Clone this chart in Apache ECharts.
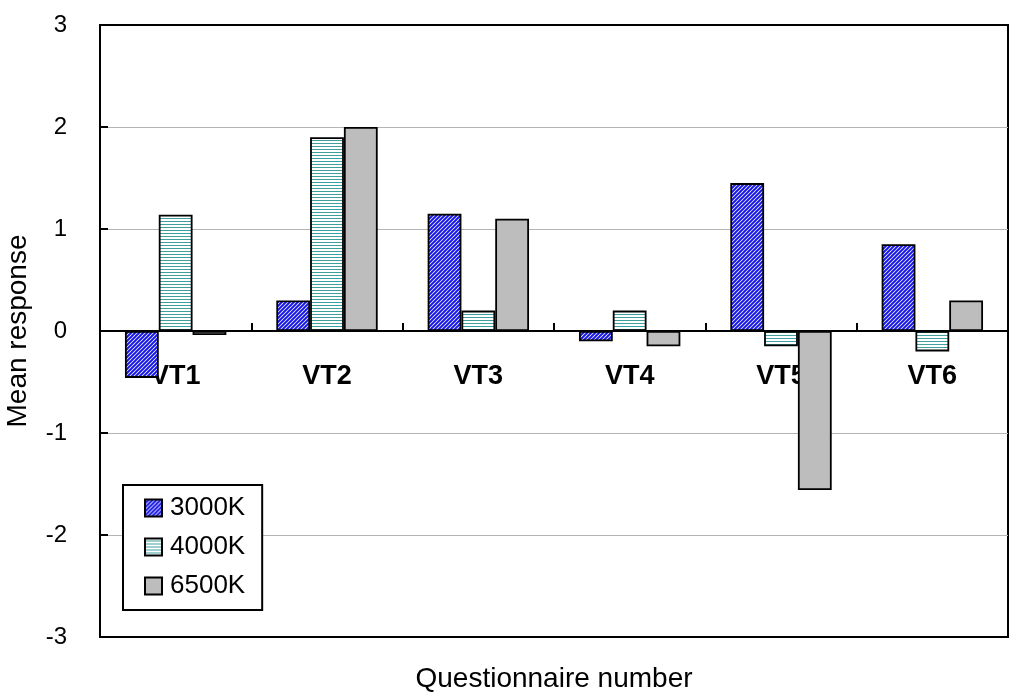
<!DOCTYPE html>
<html>
<head>
<meta charset="utf-8">
<script src="https://cdn.jsdelivr.net/npm/echarts@6/dist/echarts.min.js"></script>
<style>
html,body{margin:0;padding:0;background:#fff;}
#chart{width:1024px;height:696px;}
</style>
</head>
<body>
<div id="chart"></div>
<script>
var categories = ['VT1', 'VT2', 'VT3', 'VT4', 'VT5', 'VT6'];
var seriesNames = ['3000K', '4000K', '6500K'];
var values3000K = [-0.46, 0.3, 1.15, -0.1, 1.45, 0.85];
var values4000K = [1.14, 1.9, 0.2, 0.2, -0.15, -0.2];
var values6500K = [-0.04, 2.0, 1.1, -0.15, -1.56, 0.3];
var yTicks = { min: -3, max: 3, interval: 1 };

function makeCanvas(w, h, draw) {
  var c = document.createElement('canvas');
  c.width = w; c.height = h;
  draw(c.getContext('2d'));
  return c;
}
var bluePattern = makeCanvas(4, 4, function (g) {
  g.fillStyle = '#ffffff';
  g.fillRect(0, 0, 4, 4);
  g.strokeStyle = '#1818e6';
  g.lineWidth = 2;
  g.beginPath();
  g.moveTo(-1, 5); g.lineTo(5, -1);
  g.moveTo(-3, 3); g.lineTo(3, -3);
  g.moveTo(1, 7); g.lineTo(7, 1);
  g.stroke();
});
var tealPattern = makeCanvas(4, 3, function (g) {
  g.fillStyle = '#ffffff';
  g.fillRect(0, 0, 4, 3);
  g.fillStyle = '#3f9f9f';
  g.fillRect(0, 2, 4, 1);
});
var grayPattern = makeCanvas(30, 4, function (g) {
  g.fillStyle = '#bdbdbd';
  g.fillRect(0, 0, 30, 4);
});

var font = "'Liberation Sans', Arial, sans-serif";
var chart = echarts.init(document.getElementById('chart'));
var barStyle = function (img) {
  return { color: { image: img, repeat: 'repeat' }, borderColor: '#000', borderWidth: 1.8 };
};
var gridTop = 25, gridBottom = 59, chartH = 696;
var zeroOffset = -((chartH - gridTop - gridBottom) / 2);
chart.setOption({
  animation: false,
  backgroundColor: '#fff',
  textStyle: { fontFamily: font },
  grid: { left: 100, right: 16, top: gridTop, bottom: gridBottom, containLabel: false, outerBoundsMode: 'none', show: true, borderColor: '#000', borderWidth: 2, backgroundColor: 'transparent' },
  legend: {
    orient: 'vertical', left: 123, top: 485,
    padding: [10, 17, 11, 21],
    borderColor: '#000', borderWidth: 2, backgroundColor: '#fff',
    itemWidth: 17, itemHeight: 17, itemGap: 13, icon: 'rect',
    textStyle: { fontSize: 26, color: '#000', fontFamily: font, padding: [0, 0, 0, 3] },
    data: seriesNames
  },
  xAxis: {
    type: 'category', data: categories, position: 'bottom', offset: zeroOffset,
    name: 'Questionnaire number', nameLocation: 'middle', nameGap: 334,
    nameTextStyle: { fontSize: 28, color: '#000', fontFamily: font },
    axisLine: { onZero: false, lineStyle: { color: '#000', width: 2 } },
    axisTick: { show: true, inside: true, length: 8, lineStyle: { color: '#000', width: 2 } },
    axisLabel: { fontSize: 27, fontWeight: 'bold', color: '#000', margin: 32, fontFamily: font },
    splitLine: { show: false }
  },
  yAxis: {
    type: 'value', min: yTicks.min, max: yTicks.max, interval: yTicks.interval,
    name: 'Mean response', nameLocation: 'middle', nameGap: 68, nameRotate: 90,
    nameTextStyle: { fontSize: 28, color: '#000', fontFamily: font },
    axisLine: { show: true, lineStyle: { color: '#000', width: 2 } },
    axisTick: { show: true, inside: true, length: 8, lineStyle: { color: '#000', width: 2 } },
    axisLabel: { fontSize: 24, color: '#000', margin: 33, fontFamily: font, padding: [4, 0, 0, 0] },
    splitLine: { show: true, showMinLine: false, showMaxLine: false, lineStyle: { color: '#b4b4b4', width: 1 } }
  },
  series: [
    { name: seriesNames[0], type: 'bar', data: values3000K, barGap: '0%', barCategoryGap: '33%', itemStyle: barStyle(bluePattern) },
    { name: seriesNames[1], type: 'bar', data: values4000K, barGap: '0%', barCategoryGap: '33%', itemStyle: barStyle(tealPattern) },
    { name: seriesNames[2], type: 'bar', data: values6500K, barGap: '0%', barCategoryGap: '33%', itemStyle: barStyle(grayPattern) }
  ]
});
</script>
</body>
</html>
